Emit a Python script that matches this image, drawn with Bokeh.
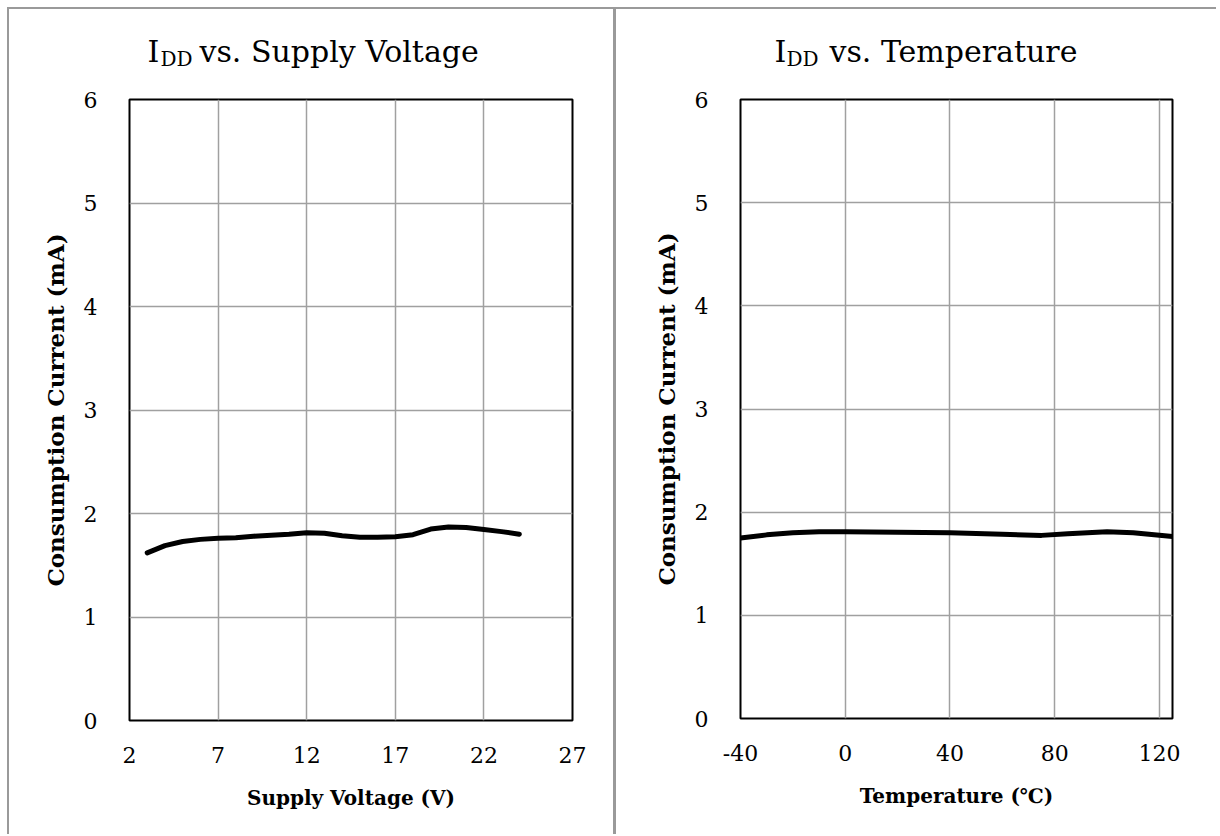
from bokeh.plotting import figure
from bokeh.models import Range1d, FixedTicker
from bokeh.layouts import row, column
from bokeh.core.properties import value
from bokeh.embed import file_html
from bokeh.resources import INLINE

# ---- data ----
volt_v = [3, 4, 5, 6, 7, 8, 9, 10, 11, 12, 13, 14, 15, 16, 17, 18, 19, 20, 21, 22, 23, 24]
volt_idd = [1.62, 1.69, 1.73, 1.75, 1.76, 1.765, 1.78, 1.79, 1.80, 1.815, 1.81, 1.785,
            1.77, 1.77, 1.775, 1.795, 1.85, 1.87, 1.865, 1.845, 1.825, 1.80]
volt_ticks = [2, 7, 12, 17, 22, 27]

temp_t = [-40, -30, -20, -10, 0, 20, 40, 60, 75, 85, 100, 110, 125]
temp_idd = [1.75, 1.78, 1.80, 1.81, 1.81, 1.805, 1.80, 1.785, 1.775, 1.79, 1.81, 1.80, 1.765]
temp_ticks = [-40, 0, 40, 80, 120]

y_ticks = [0, 1, 2, 3, 4, 5, 6]

FONT = "DejaVu Serif"
TITLE_H = 80
GRAY = "#9a9a9a"


def make_title(width, frame_w, title_rest, i_x, dd_x, rest_x):
    # frames of a column are aligned, so the title frame spans the chart frame width
    t = figure(width=width, height=TITLE_H, x_range=Range1d(0, frame_w), y_range=Range1d(0, TITLE_H),
               output_backend="svg", toolbar_location=None, tools="",
               x_axis_type=None, y_axis_type=None, min_border=0)
    t.outline_line_color = None
    t.grid.visible = False
    t.background_fill_color = "white"
    t.border_fill_color = "white"
    t.text(x=[i_x, rest_x], y=[38, 38], text=["I", title_rest], text_font=value(FONT),
           text_font_size="30px", text_baseline="alphabetic", text_align="left", text_color="black")
    t.text(x=[dd_x], y=[31], text=["DD"], text_font=value(FONT),
           text_font_size="20px", text_baseline="alphabetic", text_align="left", text_color="black")
    return t


def make_chart(x, y, xr, xticks, xlabel, width, height, mb_left, mb_right, mb_bottom, overrides):
    p = figure(width=width, height=height, x_range=Range1d(*xr), y_range=Range1d(0, 6),
               output_backend="svg", toolbar_location=None, tools="",
               min_border_left=mb_left, min_border_right=mb_right,
               min_border_top=10, min_border_bottom=mb_bottom)
    p.background_fill_color = "white"
    p.border_fill_color = "white"
    p.outline_line_color = "black"
    p.outline_line_width = 2
    p.outline_line_alpha = 1

    p.line(x, y, line_color="black", line_width=5, line_join="round", line_cap="round")

    p.xaxis.ticker = FixedTicker(ticks=xticks)
    p.yaxis.ticker = FixedTicker(ticks=y_ticks)
    p.xaxis.major_label_overrides = overrides
    for ax in (p.xaxis, p.yaxis):
        ax.axis_line_color = None
        ax.major_tick_line_color = None
        ax.minor_tick_line_color = None
        ax.major_tick_in = 0
        ax.major_tick_out = 0
        ax.minor_tick_out = 0
        ax.major_label_text_font = FONT
        ax.major_label_text_font_size = "22px"
        ax.major_label_text_color = "black"
        ax.axis_label_text_font = FONT
        ax.axis_label_text_font_style = "bold"
        ax.axis_label_text_color = "black"
    p.xaxis.axis_label = xlabel
    p.xaxis.axis_label_text_font_size = "20px"
    p.xaxis.major_label_standoff = 26
    p.xaxis.axis_label_standoff = 20
    p.yaxis.axis_label = "Consumption Current (mA)"
    p.yaxis.axis_label_text_font_size = "23px"
    p.yaxis.major_label_standoff = 32
    p.yaxis.axis_label_standoff = 12

    p.xgrid.ticker = FixedTicker(ticks=xticks)
    p.ygrid.ticker = FixedTicker(ticks=y_ticks)
    p.grid.grid_line_color = "#a0a0a0"
    p.grid.grid_line_width = 1.5
    return p


W1, W2 = 604, 600
CH = 745

t1 = make_title(W1, 443, "vs. Supply Voltage", 18, 31, 70)
c1 = make_chart(volt_v, volt_idd, (2, 27), volt_ticks, "Supply Voltage (V)",
                W1, CH, 120, 41, 114, {})
t2 = make_title(W2, 432, "vs. Temperature", 34, 46, 89)
c2 = make_chart(temp_t, temp_idd, (-40, 125), temp_ticks, "Temperature (\u2103)",
                W2, CH, 124, 44, 116, {-40: "-40"})

col1 = column(t1, c1, spacing=0)
col2 = column(t2, c2, spacing=0, styles={"border-left": "3px solid " + GRAY})
layout = row(col1, col2, spacing=0,
             styles={"background-color": "white", "border-top": "2px solid " + GRAY,
                     "border-left": "2px solid " + GRAY,
                     "margin-top": "7px", "margin-left": "7px"})

open("out.html", "w").write(file_html(layout, INLINE))
